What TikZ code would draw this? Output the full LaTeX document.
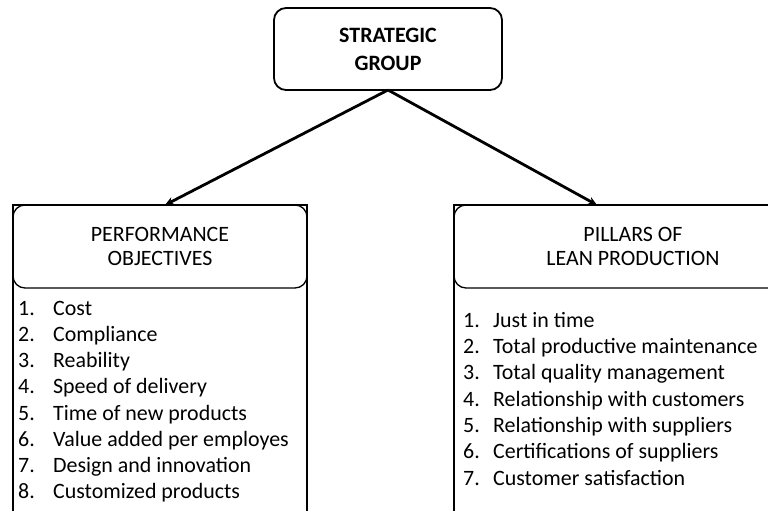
\documentclass[tikz,border=0pt]{standalone}
\usepackage{fontspec}
\setmainfont{Carlito}
\usetikzlibrary{arrows.meta}
\usetikzlibrary{positioning}

\begin{document}
\begin{tikzpicture}[x=1bp, y=-1bp,
    groupbox/.style={rectangle, rounded corners=12bp, draw, line width=1.8bp,
      minimum width=228bp, minimum height=82bp, align=center, outer sep=0pt,
      font=\fontsize{22}{28}\selectfont\bfseries},
    panel/.style={rectangle, draw, line width=1.8bp, anchor=north west, outer sep=0pt},
    header/.style={rectangle, rounded corners=12bp, draw, line width=1.3bp,
      anchor=north west, align=center, outer sep=0pt,
      font=\fontsize{22}{25}\selectfont},
    item/.style={anchor=base west, inner sep=0pt, font=\fontsize{22}{26}\selectfont},
    link/.style={-{Stealth[length=9bp, width=8bp]}, line width=2.8bp}
  ]
  \clip (0,0) rectangle (768,511);

  \node [groupbox] (group) at (388,49) {STRATEGIC\\GROUP};

  % left panel
  \node [panel, minimum width=294bp, minimum height=340bp] (perf) at (13,205) {};
  \node [header, minimum width=294bp, minimum height=83bp] (perfhead)
        at (perf.north west) {PERFORMANCE\\OBJECTIVES};
  \foreach \txt [count=\i] in {Cost, Compliance, Reability, Speed of delivery,
      Time of new products, Value added per employes, Design and innovation,
      Customized products}
    \node [item] (po\i) at (18, 289+26.2*\i) {\makebox[35bp][l]{\i.}\txt};

  % right panel
  \node [panel, minimum width=358bp, minimum height=340bp] (pillars) at (454,205) {};
  \node [header, minimum width=358bp, minimum height=83bp] (pillarshead)
        at (pillars.north west) {PILLARS OF\\LEAN PRODUCTION};
  \foreach \txt [count=\i] in {Just in time, Total productive maintenance,
      Total quality management, Relationship with customers,
      Relationship with suppliers, Certifications of suppliers,
      Customer satisfaction}
    \node [item] (lp\i) at (463, 301+26.3*\i) {\makebox[30bp][l]{\i.}\txt};

  \draw [link] (group.south) -- ([xshift=5bp]perf.north);
  \draw [link] (group.south) -- ([xshift=-36bp]pillars.north);
\end{tikzpicture}
\end{document}
